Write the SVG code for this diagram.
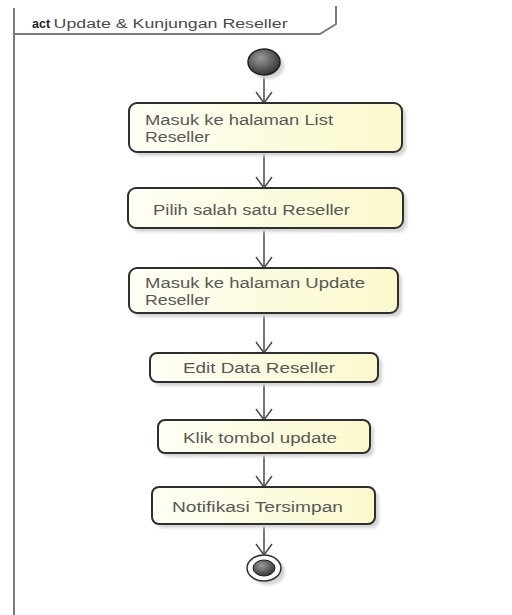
<svg xmlns="http://www.w3.org/2000/svg" width="512" height="615" viewBox="0 0 512 615">
  <style>
    .frame { fill: none; stroke: #7a7a7a; stroke-width: 2; }
    .act { fill: url(#cream); stroke: #2e2e2e; stroke-width: 2; }
    .shadow { fill: #d4d4d4; filter: url(#soft); }
    .label { font-family: "Liberation Sans", Arial, sans-serif; font-size: 14px; fill: #585858; }
    .title { font-family: "Liberation Sans", Arial, sans-serif; font-size: 12.5px; fill: #4a4a4a; }
    .flow { stroke: #4a4a4a; stroke-width: 1.5; fill: none; marker-end: url(#open); }
  </style>
  <defs>
    <filter id="soft" x="-20%" y="-20%" width="140%" height="140%">
      <feGaussianBlur stdDeviation="1.5"/>
    </filter>
    <linearGradient id="cream" x1="0" y1="0" x2="1" y2="0">
      <stop offset="0" stop-color="#fefef4"/>
      <stop offset="1" stop-color="#fbf9cc"/>
    </linearGradient>
    <radialGradient id="dot" cx="40%" cy="35%" r="70%">
      <stop offset="0" stop-color="#9a9a9a"/>
      <stop offset="1" stop-color="#2e2e2e"/>
    </radialGradient>
    <marker id="open" viewBox="-13 -10 15 20" refX="0" refY="0" markerWidth="15" markerHeight="20" markerUnits="userSpaceOnUse" orient="auto">
      <path d="M -11 -8 L 0 0 L -11 8" fill="none" stroke="#4a4a4a" stroke-width="1.5"/>
    </marker>
  </defs>

  <rect width="512" height="615" fill="#ffffff"/>

  <!-- activity frame with name tab -->
  <g id="frame">
    <line class="frame" x1="14" y1="8" x2="14" y2="615"/>
    <polyline class="frame" points="14,34 320,34 336,24 336,6"/>
    <text class="title" x="32" y="28"><tspan font-weight="bold" fill="#222">act</tspan> <tspan textLength="234" lengthAdjust="spacingAndGlyphs">Update &amp; Kunjungan Reseller</tspan></text>
  </g>

  <!-- control flows -->
  <g id="connectors">
    <line class="flow" x1="264" y1="75" x2="264" y2="103"/>
    <line class="flow" x1="264" y1="152" x2="264" y2="188"/>
    <line class="flow" x1="264" y1="228" x2="264" y2="268"/>
    <line class="flow" x1="264" y1="313" x2="264" y2="353"/>
    <line class="flow" x1="264" y1="382" x2="264" y2="420"/>
    <line class="flow" x1="264" y1="453" x2="264" y2="487"/>
    <line class="flow" x1="264" y1="524" x2="264" y2="555"/>
  </g>

  <g id="start">
    <ellipse class="shadow" cx="268" cy="66" rx="16" ry="13"/>
    <ellipse cx="264" cy="62" rx="16" ry="13" fill="url(#dot)" stroke="#222" stroke-width="1.5"/>
  </g>

  <g id="masuk-list">
    <rect class="shadow" x="133" y="107" width="273" height="49" rx="8"/>
    <rect class="act" x="129" y="103" width="273" height="49" rx="8"/>
    <text class="label" x="145" y="125" textLength="188" lengthAdjust="spacingAndGlyphs">Masuk ke halaman List</text>
    <text class="label" x="145" y="142" textLength="65" lengthAdjust="spacingAndGlyphs">Reseller</text>
  </g>

  <g id="pilih-reseller">
    <rect class="shadow" x="132" y="192" width="275" height="40" rx="8"/>
    <rect class="act" x="128" y="188" width="275" height="40" rx="8"/>
    <text class="label" x="153" y="215" textLength="197" lengthAdjust="spacingAndGlyphs">Pilih salah satu Reseller</text>
  </g>

  <g id="masuk-update">
    <rect class="shadow" x="133" y="272" width="269" height="45" rx="8"/>
    <rect class="act" x="129" y="268" width="269" height="45" rx="8"/>
    <text class="label" x="145" y="288" textLength="220" lengthAdjust="spacingAndGlyphs">Masuk ke halaman Update</text>
    <text class="label" x="145" y="305" textLength="65" lengthAdjust="spacingAndGlyphs">Reseller</text>
  </g>

  <g id="edit-data">
    <rect class="shadow" x="154" y="357" width="228" height="29" rx="7"/>
    <rect class="act" x="150" y="353" width="228" height="29" rx="7"/>
    <text class="label" x="183" y="373" textLength="152" lengthAdjust="spacingAndGlyphs">Edit Data Reseller</text>
  </g>

  <g id="klik-update">
    <rect class="shadow" x="162" y="424" width="212" height="33" rx="7"/>
    <rect class="act" x="158" y="420" width="212" height="33" rx="7"/>
    <text class="label" x="183" y="443" textLength="154" lengthAdjust="spacingAndGlyphs">Klik tombol update</text>
  </g>

  <g id="notifikasi">
    <rect class="shadow" x="156" y="491" width="223" height="37" rx="7"/>
    <rect class="act" x="152" y="487" width="223" height="37" rx="7"/>
    <text class="label" x="172" y="512" textLength="171" lengthAdjust="spacingAndGlyphs">Notifikasi Tersimpan</text>
  </g>

  <g id="end">
    <ellipse class="shadow" cx="268" cy="572" rx="17" ry="13"/>
    <ellipse cx="264" cy="568" rx="17" ry="13" fill="#ffffff" stroke="#2e2e2e" stroke-width="1.5"/>
    <ellipse cx="264" cy="568" rx="11" ry="8" fill="url(#dot)" stroke="#222" stroke-width="1"/>
  </g>
</svg>
